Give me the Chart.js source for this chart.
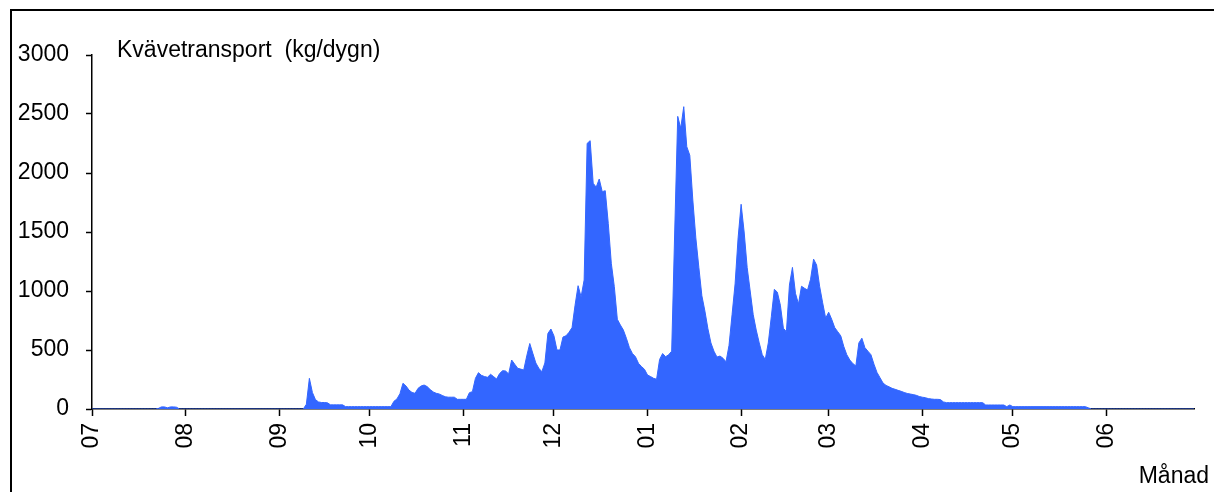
<!DOCTYPE html>
<html lang="sv">
<head>
<meta charset="utf-8">
<title>Kvävetransport</title>
<script src="https://cdn.jsdelivr.net/npm/chart.js@4.4.1/dist/chart.umd.min.js"></script>
<style>
    html, body { margin: 0; padding: 0; background: #fff; overflow: hidden; }
    #wrap { position: relative; width: 1214px; height: 492px; }
    #frame {
        position: absolute; left: 10px; top: 9px;
        width: 1300px; height: 600px;
        border: 2px solid #000;
    }
    #nChart { position: absolute; left: 0; top: 0; }
</style>
</head>
<body>
<div id="wrap">
    <div id="frame"></div>
    <canvas id="nChart" width="1214" height="492"></canvas>
</div>
<script>
// ============================================
// Data: daglig kvävetransport (kg/dygn), jul - jun
// ============================================
const monthLabels = ["07", "08", "09", "10", "11", "12", "01", "02", "03", "04", "05", "06"];
const monthStarts = [0, 31, 62, 92, 123, 153, 184, 215, 244, 275, 305, 336];
const yTicks = [0, 500, 1000, 1500, 2000, 2500, 3000];

const jul = [0, 0, 0, 0, 0, 0, 0, 0, 0, 0, 0, 0, 0, 0, 0, 0, 0, 0, 0, 0,
    0, 0, 5, 18, 18, 10, 18, 18, 15, 0, 0];
const aug = [0, 0, 0, 0, 0, 0, 0, 0, 0, 0, 0, 0, 0, 0, 0, 0, 0, 0, 0, 0,
    0, 0, 0, 0, 0, 0, 0, 0, 0, 0, 0];
const sep = [0, 0, 0, 0, 0, 0, 0, 0, 0, 40, 260, 140, 80, 60, 55, 55, 52, 35, 35, 35,
    35, 35, 20, 20, 20, 20, 20, 20, 20, 20];
const oct = [20, 20, 20, 20, 20, 20, 20, 20, 65, 85, 130, 218, 195, 160, 140, 133, 175, 195, 203, 190,
    165, 145, 133, 127, 115, 104, 100, 100, 100, 82, 82];
const nov = [82, 82, 138, 147, 260, 308, 285, 275, 269, 294, 275, 254, 300, 325, 322, 297, 415, 380, 345, 338,
    330, 450, 555, 472, 390, 345, 316, 390, 640, 678];
const dec = [620, 500, 500, 610, 620, 650, 690, 880, 1045, 950, 1093, 2251, 2274, 1913, 1880, 1949, 1842, 1850, 1573, 1235,
    1037, 760, 712, 669, 599, 520, 470, 443, 387, 360, 336];
const jan = [288, 275, 260, 252, 420, 470, 443, 460, 490, 1500, 2480, 2380, 2562, 2223, 2150, 1771, 1450, 1200, 960, 830,
    680, 560, 490, 440, 449, 430, 400, 540, 800, 1060, 1450];
const feb = [1735, 1500, 1200, 1000, 800, 669, 560, 460, 420, 560, 782, 1014, 990, 880, 684, 655, 1050, 1200, 980, 890,
    1040, 1023, 1008, 1100, 1270, 1220, 1040, 900, 770];
const mar = [820, 760, 690, 655, 620, 530, 460, 415, 385, 365, 560, 600, 520, 490, 460, 380, 310, 265, 220, 200,
    188, 175, 167, 158, 150, 140, 132, 127, 122, 116, 106];
const apr = [100, 96, 88, 85, 82, 82, 80, 60, 54, 54, 54, 54, 54, 54, 54, 54, 54, 54, 54, 54,
    54, 34, 34, 34, 34, 34, 34, 34, 20, 34];
const may = [20, 20, 20, 20, 20, 20, 20, 20, 20, 20, 20, 20, 20, 20, 20, 20, 20, 20, 20, 20,
    20, 20, 20, 20, 20, 10, 0, 0, 0, 0, 0];
const jun = [0, 0, 0, 0, 0, 0, 0, 0, 0, 0, 0, 0, 0, 0, 0, 0, 0, 0, 0, 0,
    0, 0, 0, 0, 0, 0, 0, 0, 0, 0];

const FONT = "'Liberation Sans', Arial, sans-serif";

// ============================================
// Plugin: rubrik i diagrammet + "Månad"
// ============================================
const labelsPlugin = {
    id: "labelsPlugin",
    afterDraw(chart) {
        const { ctx, chartArea } = chart;
        ctx.save();
        ctx.fillStyle = "#000";
        ctx.font = "23px " + FONT;
        ctx.textBaseline = "alphabetic";
        ctx.textAlign = "left";
        ctx.fillText("Kvävetransport  (kg/dygn)", chartArea.left + 25, chartArea.top + 2);
        ctx.textAlign = "right";
        ctx.fillText("Månad", chartArea.right + 15, chartArea.bottom + 74);
        ctx.restore();
    },
};

document.addEventListener("DOMContentLoaded", function () {
    const values = [].concat(jul, aug, sep, oct, nov, dec, jan, feb, mar, apr, may, jun);
    const points = values.map((v, i) => ({ x: i, y: v }));

    const ctx = document.getElementById("nChart").getContext("2d");
    new Chart(ctx, {
        type: "line",
        data: {
            datasets: [
                {
                    label: "Kvävetransport",
                    data: points,
                    borderColor: "#3366FF",
                    backgroundColor: "#3366FF",
                    borderWidth: 1,
                    pointRadius: 0,
                    fill: "origin",
                    tension: 0,
                },
            ],
        },
        options: {
            responsive: false,
            animation: false,
            layout: { padding: { left: 0, right: 20, top: 55, bottom: 0 } },
            plugins: {
                legend: { display: false },
                tooltip: { enabled: false },
            },
            scales: {
                x: {
                    type: "linear",
                    min: 0,
                    max: 365,
                    z: 1,
                    grid: { drawOnChartArea: false, tickLength: 7, tickWidth: 1.5, tickColor: "#000" },
                    border: { color: "#000", width: 1.5 },
                    afterBuildTicks: (scale) => {
                        scale.ticks = monthStarts.map((v) => ({ value: v }));
                    },
                    afterFit: (scale) => {
                        scale.height = 83;
                    },
                    ticks: {
                        autoSkip: false,
                        minRotation: 90,
                        maxRotation: 90,
                        padding: 7,
                        color: "#000",
                        font: { family: FONT, size: 23 },
                        callback: (value, index) => monthLabels[index],
                    },
                },
                y: {
                    min: 0,
                    max: 3000,
                    z: 1,
                    grid: { drawOnChartArea: false, tickLength: 6, tickWidth: 1.5, tickColor: "#000" },
                    border: { color: "#000", width: 1.5 },
                    afterBuildTicks: (scale) => {
                        scale.ticks = yTicks.map((v) => ({ value: v }));
                    },
                    afterFit: (scale) => {
                        scale.width = 92;
                    },
                    ticks: {
                        padding: 17,
                        color: "#000",
                        font: { family: FONT, size: 23 },
                        callback: (value) => String(value),
                    },
                },
            },
        },
        plugins: [labelsPlugin],
    });
});
</script>
</body>
</html>
